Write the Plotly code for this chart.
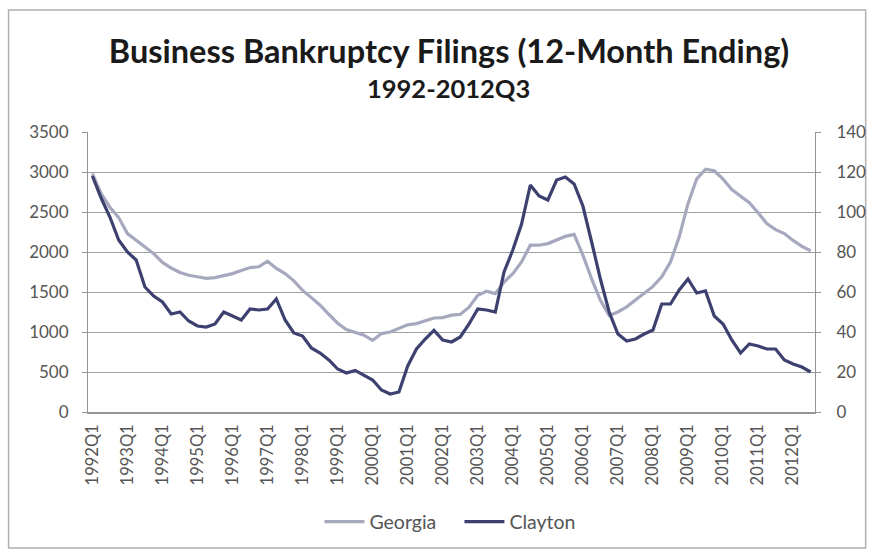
import plotly.graph_objects as go

# Quarter labels 1992Q1 .. 2012Q3
quarters = [f"{y}Q{q}" for y in range(1992, 2013) for q in range(1, 5)][:83]

# Georgia business bankruptcy filings, 12-month ending (left axis)
georgia = [
    2980, 2730, 2560, 2430, 2230, 2150, 2060, 1980, 1870, 1800,
    1745, 1710, 1690, 1670, 1680, 1705, 1730, 1770, 1805, 1815,
    1885, 1795, 1730, 1640, 1520, 1430, 1335, 1220, 1110, 1030,
    990, 960, 895, 980, 1000, 1040, 1090, 1105, 1145, 1175,
    1180, 1210, 1220, 1310, 1460, 1510, 1480, 1625, 1730, 1875,
    2085, 2085, 2105, 2145, 2195, 2220, 1960, 1665, 1395, 1205,
    1250, 1315, 1400, 1480, 1570, 1690, 1875, 2190, 2605, 2915,
    3035, 3015, 2910, 2780, 2695, 2615, 2490, 2355, 2280, 2230,
    2145, 2070, 2015,
]

# Clayton County filings, 12-month ending (right axis)
clayton = [
    118, 107, 97.5, 86, 80, 76, 62.5, 58, 55, 49,
    50, 45.5, 43, 42.5, 44, 50, 48, 46, 51.5, 51,
    51.5, 56.5, 46, 39.5, 38, 32, 29.5, 26, 21.5, 19.5,
    20.8, 18.3, 16, 11, 9, 10, 23, 31.5, 36.5, 40.8,
    36, 35, 37.5, 44, 51.5, 51, 50, 70, 81, 94,
    113.5, 108, 106, 116, 117.5, 114, 103, 85, 66.5, 50,
    39, 35.5, 36.5, 39, 41, 54, 54, 61, 66.5, 59.5,
    60.5, 48, 44, 36, 29.5, 34, 33, 31.5, 31.5, 26,
    24, 22.5, 20,
]

left_ticks = list(range(0, 3501, 500))
right_ticks = list(range(0, 141, 20))
label_quarters = [q for q in quarters if q.endswith("Q1")]

W, H = 878, 559
ML, MR, MT, MB = 88, 58, 132, 147
pw, ph = W - ML - MR, H - MT - MB

def px_to_paper_x(px):
    return (px - ML) / pw

def px_to_paper_y(py):
    return (H - MB - py) / ph

GRID = "#a0a0a0"
AXIS = "#949494"
TXT = "#555555"
FONT = "Lato"

fig = go.Figure()
fig.add_trace(go.Scatter(
    x=quarters, y=georgia, name="Georgia", mode="lines",
    line=dict(color="#a6a9be", width=3.2), yaxis="y",
))
fig.add_trace(go.Scatter(
    x=quarters, y=clayton, name="Clayton", mode="lines",
    line=dict(color="#3d4170", width=3.2), yaxis="y2",
))

fig.update_layout(
    width=W, height=H,
    margin=dict(l=ML, r=MR, t=MT, b=MB),
    paper_bgcolor="white", plot_bgcolor="white",
    font=dict(family=FONT, color=TXT),
    title=dict(
        text="<b>Business Bankruptcy Filings (12-Month Ending)</b>",
        x=449 / W, xref="container", xanchor="center",
        y=1 - 52 / H, yref="container", yanchor="middle",
        font=dict(family=FONT, size=32.5, color="#1a1a1a"),
    ),
    annotations=[dict(
        text="<b>1992-2012Q3</b>", showarrow=False,
        xref="paper", yref="paper",
        x=px_to_paper_x(451), y=px_to_paper_y(88),
        xanchor="center", yanchor="middle",
        font=dict(family=FONT, size=25.5, color="#1a1a1a"),
    )],
    xaxis=dict(
        type="category", categoryorder="array", categoryarray=quarters,
        range=[-0.5, len(quarters) - 0.5],
        tickmode="array", tickvals=label_quarters, ticktext=label_quarters,
        tickangle=-90, tickfont=dict(family=FONT, size=16.5, color=TXT),
        showgrid=False, showline=True, linecolor=AXIS, linewidth=1.5,
        ticks="", ticklabelstandoff=4,
    ),
    yaxis=dict(
        range=[0, 3500], tickvals=left_ticks,
        showgrid=True, gridcolor=GRID, gridwidth=1,
        zeroline=False, showline=True, linecolor=AXIS,
        ticks="outside", ticklen=5, tickcolor=AXIS,
        tickfont=dict(family=FONT, size=17, color=TXT),
        ticklabelstandoff=10,
    ),
    yaxis2=dict(
        range=[0, 140], tickvals=right_ticks, overlaying="y", side="right",
        showgrid=False, zeroline=False, showline=True, linecolor=AXIS,
        ticks="outside", ticklen=5, tickcolor=AXIS,
        tickfont=dict(family=FONT, size=17, color=TXT),
        ticklabelstandoff=12,
    ),
    legend=dict(
        orientation="h", x=px_to_paper_x(462), xanchor="center",
        y=px_to_paper_y(522), yanchor="middle",
        font=dict(family=FONT, size=19.5, color=TXT),
        itemwidth=40, entrywidth=85, entrywidthmode="pixels",
        bgcolor="rgba(0,0,0,0)",
    ),
    shapes=[dict(
        type="rect", xref="paper", yref="paper",
        x0=px_to_paper_x(8), x1=px_to_paper_x(871),
        y0=px_to_paper_y(548), y1=px_to_paper_y(10),
        line=dict(color="#b0b0b0", width=1.5), layer="below",
    )],
)

fig.write_html("out.html")
